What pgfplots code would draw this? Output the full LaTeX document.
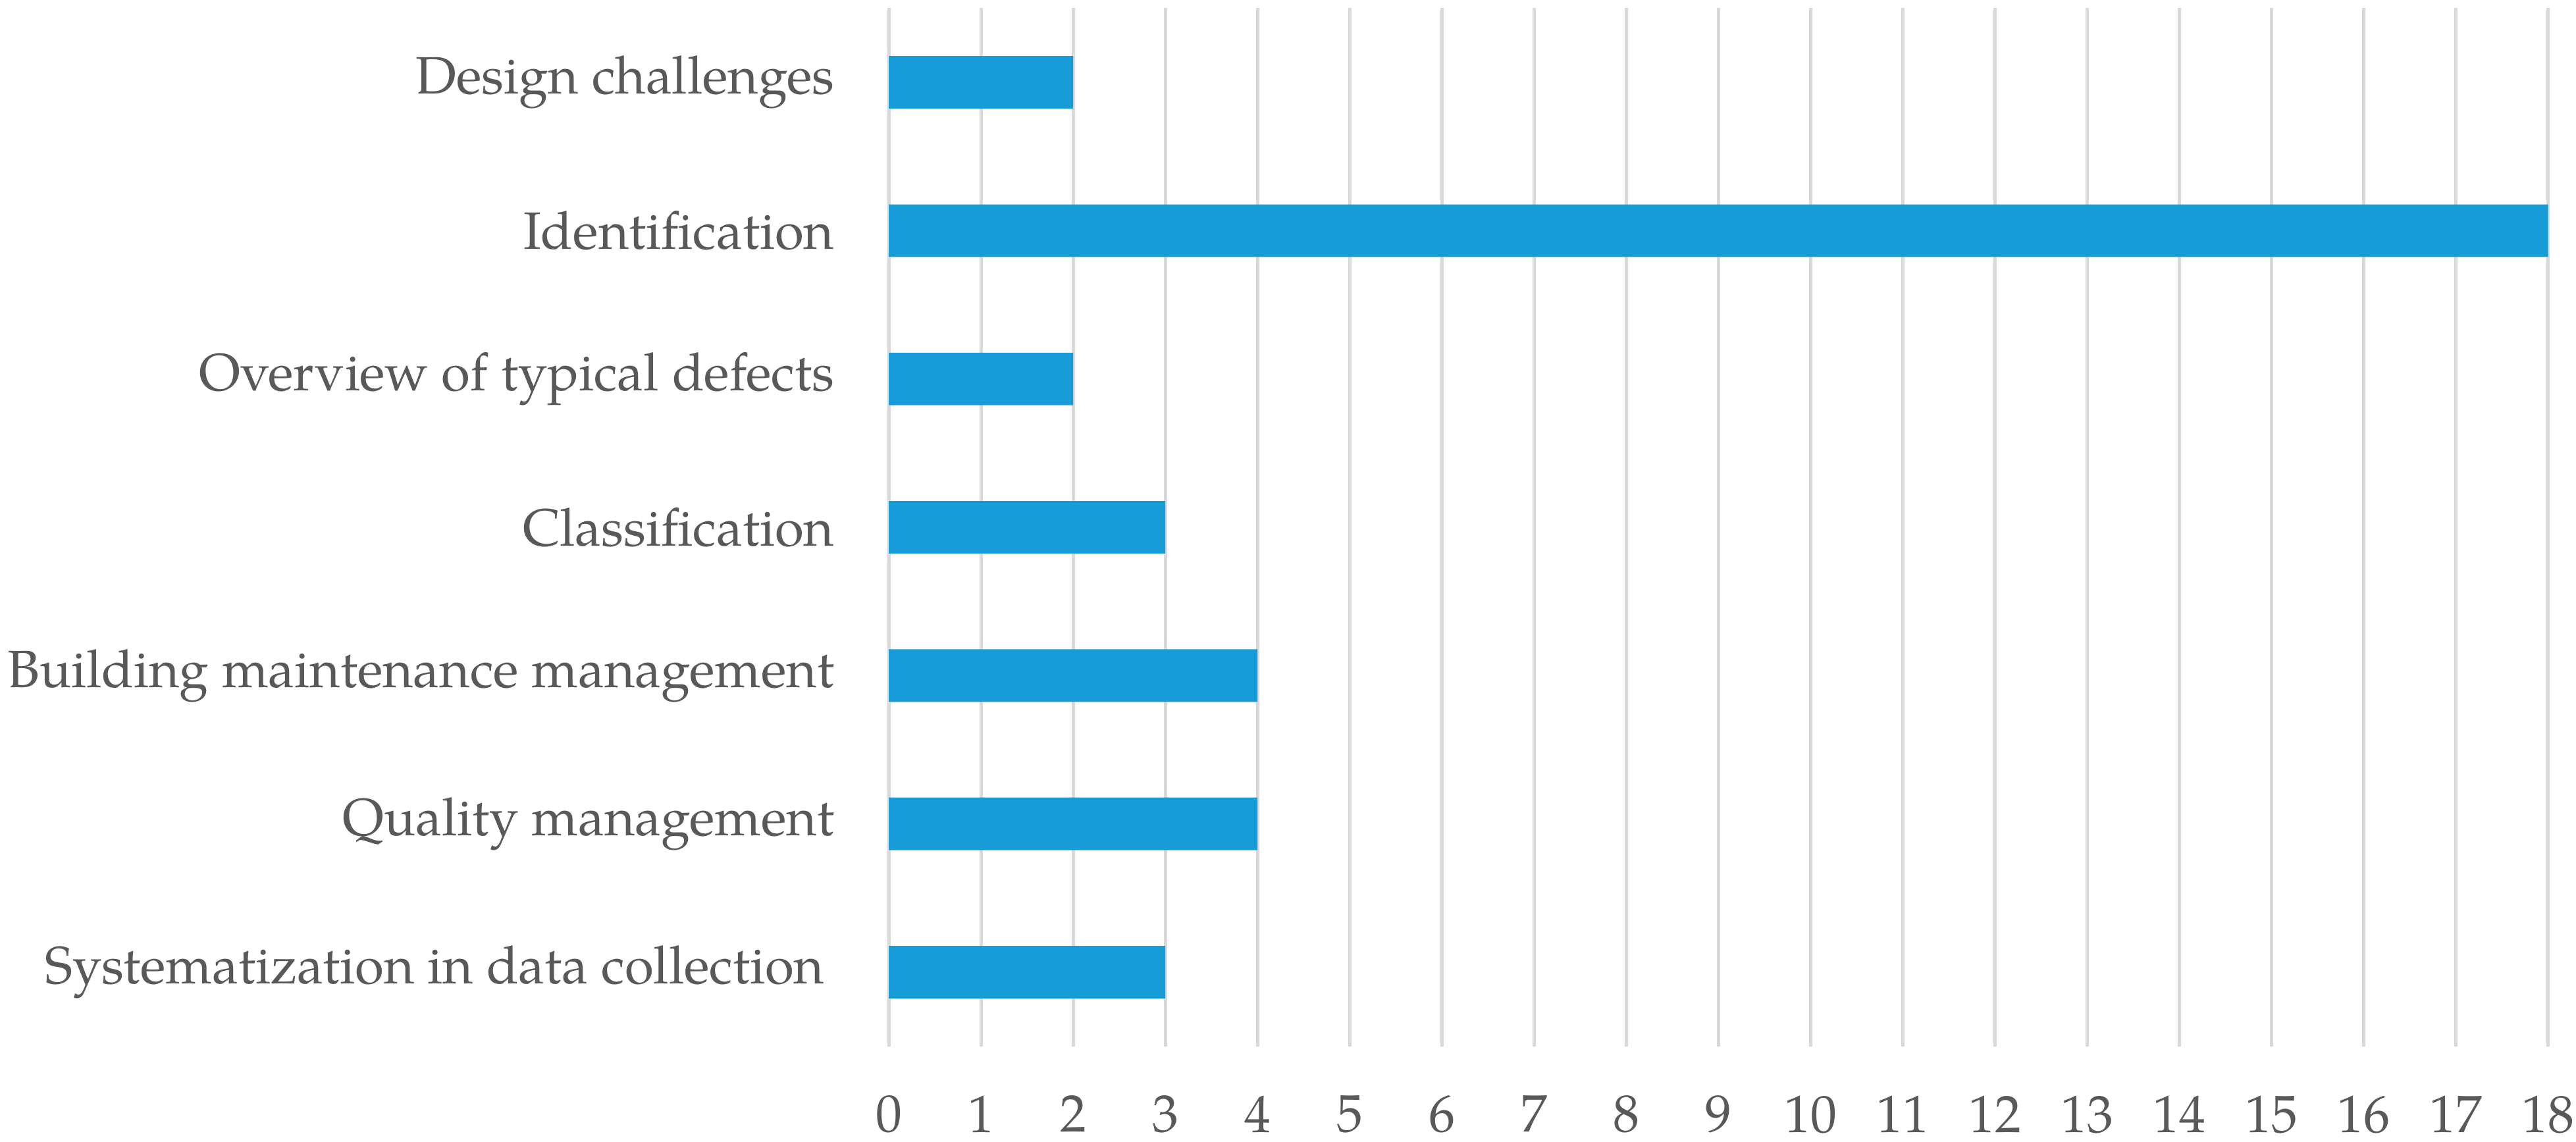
\documentclass[border=0pt]{standalone}
\usepackage{fontspec}
\setmainfont{TeX Gyre Pagella}
\usepackage{pgfplots}
\pgfplotsset{compat=1.18}
\definecolor{barblue}{RGB}{24,156,216}
\definecolor{gridgray}{RGB}{217,217,217}
\definecolor{labelgray}{RGB}{89,89,89}

\begin{document}
\begin{tikzpicture}
\path[use as bounding box] (-135.25pt,-14.5pt) rectangle (256.75pt,159.25pt);
\begin{axis}[
xbar,
scale only axis,
width=252.5pt,
height=158pt,
bar width=8pt,
xmin=0, xmax=18,
ymin=-0.5, ymax=6.5,
xtick={0,1,...,18},
ytick={0,1,...,6},
yticklabels={Systematization in data collection\hspace*{1.5pt}, Quality management, Building maintenance management, Classification, Overview of typical defects, Identification, Design challenges},
axis line style={draw=none},
major tick style={draw=none},
xmajorgrids,
grid style={gridgray, line width=0.5pt},
ticklabel style={font=\fontsize{8}{9}\selectfont, text=labelgray},
/pgf/number format/assume math mode=true,
xticklabel style={yshift=-4pt},
yticklabel style={xshift=-0.5pt},
clip=false,
]
\addplot[fill=barblue, draw=none] coordinates {
(3,0)
(4,1)
(4,2)
(3,3)
(2,4)
(18,5)
(2,6)
};
\end{axis}
\end{tikzpicture}
\end{document}
